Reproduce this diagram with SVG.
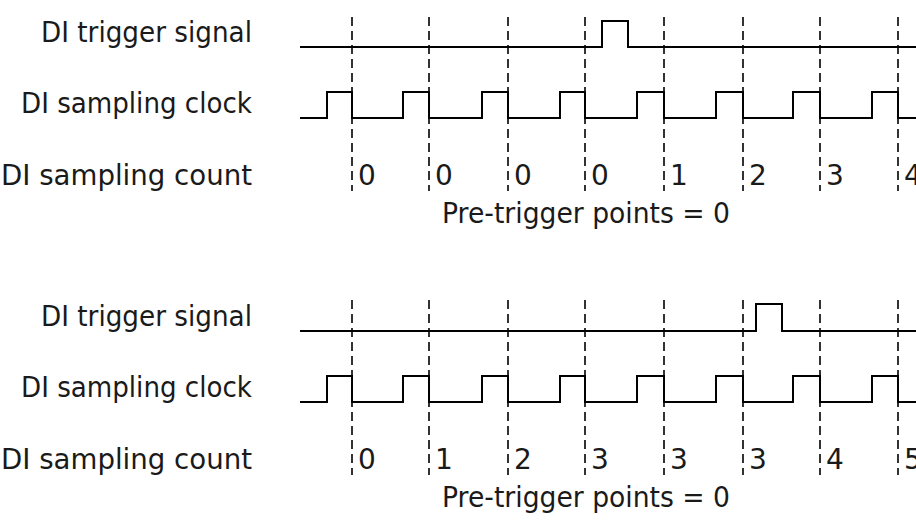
<svg xmlns="http://www.w3.org/2000/svg" width="916" height="527" viewBox="0 0 916 527">
<style>
text{font-family:"DejaVu Sans","Liberation Sans",sans-serif;font-size:28px;fill:#1a1a1a}
.lbl{text-anchor:end}
.wave{fill:none;stroke:#000;stroke-width:2}
.dash{stroke:#000;stroke-width:1.6;stroke-dasharray:9 5}
</style>
<rect width="916" height="527" fill="#fff"/>
<g id="top-section">
  <g id="top-labels">
    <text class="lbl" x="252" y="42" textLength="211" lengthAdjust="spacingAndGlyphs">DI trigger signal</text>
    <text class="lbl" x="252" y="113" textLength="231" lengthAdjust="spacingAndGlyphs">DI sampling clock</text>
    <text class="lbl" x="252" y="185" textLength="251" lengthAdjust="spacingAndGlyphs">DI sampling count</text>
  </g>
  <g id="top-grid">
    <line class="dash" x1="352" y1="17" x2="352" y2="191"/>
    <line class="dash" x1="429" y1="17" x2="429" y2="191"/>
    <line class="dash" x1="508" y1="17" x2="508" y2="191"/>
    <line class="dash" x1="585" y1="17" x2="585" y2="191"/>
    <line class="dash" x1="664" y1="17" x2="664" y2="191"/>
    <line class="dash" x1="743" y1="17" x2="743" y2="191"/>
    <line class="dash" x1="820" y1="17" x2="820" y2="191"/>
    <line class="dash" x1="898" y1="17" x2="898" y2="191"/>
  </g>
  <g id="top-trigger"><path class="wave" d="M300,47 H602 V21 H628 V47 H916"/></g>
  <g id="top-clock"><path class="wave" d="M300,118 H327 V92 H352 V118 H403 V92 H429 V118 H482 V92 H508 V118 H560 V92 H585 V118 H637 V92 H664 V118 H716 V92 H743 V118 H793 V92 H820 V118 H872 V92 H898 V118 H916"/></g>
  <g id="top-count">
    <text x="358" y="185">0</text>
    <text x="435" y="185">0</text>
    <text x="514" y="185">0</text>
    <text x="591" y="185">0</text>
    <text x="670" y="185">1</text>
    <text x="749" y="185">2</text>
    <text x="826" y="185">3</text>
    <text x="904" y="185">4</text>
  </g>
  <text id="top-caption" x="442" y="223" textLength="288" lengthAdjust="spacingAndGlyphs">Pre-trigger points = 0</text>
</g>
<g id="bottom-section">
  <g id="bottom-labels">
    <text class="lbl" x="252" y="326" textLength="211" lengthAdjust="spacingAndGlyphs">DI trigger signal</text>
    <text class="lbl" x="252" y="397" textLength="231" lengthAdjust="spacingAndGlyphs">DI sampling clock</text>
    <text class="lbl" x="252" y="469" textLength="251" lengthAdjust="spacingAndGlyphs">DI sampling count</text>
  </g>
  <g id="bottom-grid">
    <line class="dash" x1="352" y1="300" x2="352" y2="475"/>
    <line class="dash" x1="429" y1="300" x2="429" y2="475"/>
    <line class="dash" x1="508" y1="300" x2="508" y2="475"/>
    <line class="dash" x1="585" y1="300" x2="585" y2="475"/>
    <line class="dash" x1="664" y1="300" x2="664" y2="475"/>
    <line class="dash" x1="743" y1="300" x2="743" y2="475"/>
    <line class="dash" x1="820" y1="300" x2="820" y2="475"/>
    <line class="dash" x1="898" y1="300" x2="898" y2="475"/>
  </g>
  <g id="bottom-trigger"><path class="wave" d="M300,331 H756 V304 H782 V331 H916"/></g>
  <g id="bottom-clock"><path class="wave" d="M300,402 H327 V376 H352 V402 H403 V376 H429 V402 H482 V376 H508 V402 H560 V376 H585 V402 H637 V376 H664 V402 H716 V376 H743 V402 H793 V376 H820 V402 H872 V376 H898 V402 H916"/></g>
  <g id="bottom-count">
    <text x="358" y="469">0</text>
    <text x="435" y="469">1</text>
    <text x="514" y="469">2</text>
    <text x="591" y="469">3</text>
    <text x="670" y="469">3</text>
    <text x="749" y="469">3</text>
    <text x="826" y="469">4</text>
    <text x="904" y="469">5</text>
  </g>
  <text id="bottom-caption" x="442" y="507" textLength="288" lengthAdjust="spacingAndGlyphs">Pre-trigger points = 0</text>
</g>
</svg>
